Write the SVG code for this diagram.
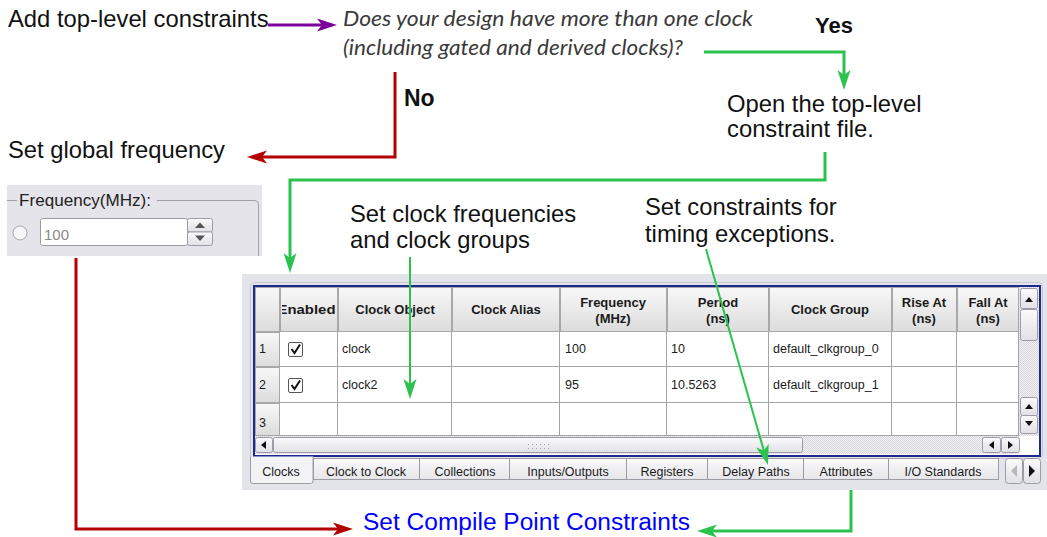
<svg xmlns="http://www.w3.org/2000/svg" width="1047" height="537" viewBox="0 0 1047 537">
  <style>
    .lbl { font-family: "Liberation Sans", Arial, sans-serif; font-size: 23.8px; fill: #111; }
    .bold { font-weight: bold; }
    .q { font-family: Lato, "Open Sans", sans-serif; font-style: italic; font-size: 21px; fill: #3a3a3a; }
    .ui { font-family: "Liberation Sans", Arial, sans-serif; font-size: 12.5px; fill: #1a1a1a; }
    .hd { font-family: "Liberation Sans", Arial, sans-serif; font-size: 13px; font-weight: bold; fill: #1a1a1a; text-anchor: middle; }
    .tab { font-family: "Liberation Sans", Arial, sans-serif; font-size: 12.5px; fill: #1a1a1a; text-anchor: middle; }
    .grid { stroke: #a4a4a4; stroke-width: 1; fill: none; }
    .hcell { fill: url(#hdrGrad); stroke: #a8a8a8; stroke-width: 1; }
    .btn { fill: url(#btnGrad); stroke: #9c9ca6; stroke-width: 1; }
    .itab { fill: url(#tabGrad); stroke: #9c9ca4; stroke-width: 1; }
    .purple { stroke: #7d009c; stroke-width: 3; fill: none; }
    .red { stroke: #b30000; stroke-width: 3; fill: none; }
    .green { stroke: #2cc24e; stroke-width: 3; fill: none; }
    .green-thin { stroke: #2cc24e; stroke-width: 2; fill: none; }
  </style>
  <defs>
    <marker id="ahP" viewBox="0 -7 20 14" refX="6" refY="0" markerWidth="20" markerHeight="14" markerUnits="userSpaceOnUse" orient="auto">
      <path d="M0,-6.5 L20,0 L0,6.5 L5,0 Z" fill="#7d009c"/>
    </marker>
    <marker id="ahR" viewBox="0 -7 20 14" refX="6" refY="0" markerWidth="20" markerHeight="14" markerUnits="userSpaceOnUse" orient="auto">
      <path d="M0,-6.5 L20,0 L0,6.5 L5,0 Z" fill="#b30000"/>
    </marker>
    <marker id="ahG" viewBox="0 -7 20 14" refX="6" refY="0" markerWidth="20" markerHeight="14" markerUnits="userSpaceOnUse" orient="auto">
      <path d="M0,-6.5 L20,0 L0,6.5 L5,0 Z" fill="#2cc24e"/>
    </marker>
    <linearGradient id="hdrGrad" x1="0" y1="0" x2="0" y2="1">
      <stop offset="0" stop-color="#f8f8f8"/>
      <stop offset="1" stop-color="#dcdcdc"/>
    </linearGradient>
    <linearGradient id="btnGrad" x1="0" y1="0" x2="0" y2="1">
      <stop offset="0" stop-color="#fbfbfc"/>
      <stop offset="1" stop-color="#e0e0e6"/>
    </linearGradient>
    <linearGradient id="tabGrad" x1="0" y1="0" x2="0" y2="1">
      <stop offset="0" stop-color="#fafafa"/>
      <stop offset="1" stop-color="#e6e6ea"/>
    </linearGradient>
    <pattern id="track" width="2" height="2" patternUnits="userSpaceOnUse">
      <rect width="2" height="2" fill="#f2f2f4"/>
      <rect width="1" height="1" fill="#d6d6dc"/>
      <rect x="1" y="1" width="1" height="1" fill="#d6d6dc"/>
    </pattern>
    <pattern id="grip" width="4" height="4" patternUnits="userSpaceOnUse">
      <rect width="1" height="1" fill="#a8a8b0"/>
    </pattern>
    <clipPath id="enClip"><rect x="282" y="288" width="56" height="44"/></clipPath>
  </defs>

  <!-- flow labels -->
  <g id="add-constraints">
    <text class="lbl" x="8" y="27">Add top-level constraints</text>
  </g>
  <g id="question">
    <text class="q" x="343" y="26" textLength="410" lengthAdjust="spacingAndGlyphs">Does your design have more than one clock</text>
    <text class="q" x="343" y="55" textLength="340" lengthAdjust="spacingAndGlyphs">(including gated and derived clocks)?</text>
  </g>
  <g id="yes-label">
    <text class="lbl bold" x="815" y="33" style="font-size:22px">Yes</text>
  </g>
  <g id="no-label">
    <text class="lbl bold" x="404" y="106" style="font-size:23px">No</text>
  </g>
  <g id="open-file">
    <text class="lbl" x="727" y="112">Open the top-level</text>
    <text class="lbl" x="727" y="137">constraint file.</text>
  </g>
  <g id="global-frequency">
    <text class="lbl" x="8" y="158">Set global frequency</text>
  </g>
  <g id="clock-frequencies">
    <text class="lbl" x="350" y="222">Set clock frequencies</text>
    <text class="lbl" x="350" y="248">and clock groups</text>
  </g>
  <g id="timing-exceptions">
    <text class="lbl" x="645" y="215">Set constraints for</text>
    <text class="lbl" x="645" y="242">timing exceptions.</text>
  </g>
  <g id="compile-point">
    <text x="363" y="530" textLength="327" lengthAdjust="spacingAndGlyphs" style="font-family:'Liberation Sans',Arial,sans-serif;font-size:23px;fill:#0000ff">Set Compile Point Constraints</text>
  </g>

  <!-- frequency entry widget -->
  <g id="frequency-widget">
    <rect x="7" y="185" width="255" height="71" fill="#e4e4ea"/>
    <path d="M7,200.5 H17 M157,200.5 H254 Q258.5,200.5 258.5,205 V256" stroke="#a0a0a8" stroke-width="1" fill="none"/>
    <text x="19" y="206" textLength="132" lengthAdjust="spacingAndGlyphs" style="font-family:'Liberation Sans',Arial,sans-serif;font-size:17px;fill:#222">Frequency(MHz):</text>
    <circle cx="20" cy="233" r="7" fill="#f6f6f8" stroke="#a8a8b0" stroke-width="1"/>
    <rect x="40.5" y="218.5" width="147" height="27" rx="2" fill="#ffffff" stroke="#9a9aa2"/>
    <text x="44" y="240" style="font-family:'Liberation Sans',Arial,sans-serif;font-size:15px;fill:#8a8a8a">100</text>
    <rect x="187.5" y="218.5" width="25" height="13.5" rx="2" class="btn"/>
    <rect x="187.5" y="232" width="25" height="13.5" rx="2" class="btn"/>
    <path d="M195,228 L200,222.5 L205,228 Z" fill="#555"/>
    <path d="M195,235.5 L200,241 L205,235.5 Z" fill="#555"/>
  </g>

  <!-- clocks table panel -->
  <g id="clock-table">
    <rect x="242" y="274" width="805" height="216" fill="#e3e3ea"/>
    <rect x="250.5" y="282.5" width="792" height="176" rx="4" fill="none" stroke="#c6c6ce"/>
    <rect x="254" y="286" width="786" height="170" fill="#ffffff" stroke="#1c2a8e" stroke-width="2"/>

    <!-- header row -->
    <rect class="hcell" x="255.5" y="287.5" width="24" height="44"/>
    <rect class="hcell" x="280.5" y="287.5" width="57" height="44"/>
    <rect class="hcell" x="338.5" y="287.5" width="113" height="44"/>
    <rect class="hcell" x="452.5" y="287.5" width="107" height="44"/>
    <rect class="hcell" x="560.5" y="287.5" width="106" height="44"/>
    <rect class="hcell" x="667.5" y="287.5" width="101" height="44"/>
    <rect class="hcell" x="769.5" y="287.5" width="122" height="44"/>
    <rect class="hcell" x="892.5" y="287.5" width="64" height="44"/>
    <rect class="hcell" x="957.5" y="287.5" width="61" height="44"/>

    <g clip-path="url(#enClip)">
      <text class="hd" x="277.5" y="314" style="text-anchor:start" textLength="58" lengthAdjust="spacingAndGlyphs">Enabled</text>
    </g>
    <text class="hd" x="395" y="314">Clock Object</text>
    <text class="hd" x="506" y="314">Clock Alias</text>
    <text class="hd" x="613" y="307">Frequency</text>
    <text class="hd" x="613" y="323">(MHz)</text>
    <text class="hd" x="718" y="307">Period</text>
    <text class="hd" x="718" y="323">(ns)</text>
    <text class="hd" x="830" y="314">Clock Group</text>
    <text class="hd" x="924" y="307">Rise At</text>
    <text class="hd" x="924" y="323">(ns)</text>
    <text class="hd" x="988" y="307">Fall At</text>
    <text class="hd" x="988" y="323">(ns)</text>

    <!-- row number cells -->
    <rect class="hcell" x="255.5" y="332.5" width="24" height="34"/>
    <rect class="hcell" x="255.5" y="367.5" width="24" height="35"/>
    <rect class="hcell" x="255.5" y="403.5" width="24" height="32"/>

    <!-- data grid -->
    <path class="grid" d="M280,366.5 H1019 M280,402.5 H1019 M280,435.5 H1019 M337.5,332 V436 M451.5,332 V436 M559.5,332 V436 M666.5,332 V436 M768.5,332 V436 M891.5,332 V436 M956.5,332 V436 M1018.5,332 V436"/>

    <text class="ui" x="259" y="353">1</text>
    <text class="ui" x="259" y="389">2</text>
    <text class="ui" x="259" y="427">3</text>

    <rect x="288.5" y="342.5" width="14" height="14" rx="1.5" fill="#ffffff" stroke="#555"/>
    <path d="M291.5,349 L294.5,353 L300,344.5" stroke="#111" stroke-width="2" fill="none"/>
    <rect x="288.5" y="378.5" width="14" height="14" rx="1.5" fill="#ffffff" stroke="#555"/>
    <path d="M291.5,385 L294.5,389 L300,380.5" stroke="#111" stroke-width="2" fill="none"/>

    <text class="ui" x="342" y="353">clock</text>
    <text class="ui" x="565" y="353">100</text>
    <text class="ui" x="671" y="353">10</text>
    <text class="ui" x="773" y="353">default_clkgroup_0</text>
    <text class="ui" x="342" y="389">clock2</text>
    <text class="ui" x="565" y="389">95</text>
    <text class="ui" x="671" y="389">10.5263</text>
    <text class="ui" x="773" y="389">default_clkgroup_1</text>

    <!-- vertical scrollbar -->
    <rect x="1019" y="287" width="20" height="149" fill="url(#track)"/>
    <rect class="btn" x="1020.5" y="288.5" width="17" height="20" rx="2"/>
    <path d="M1025,302 L1029,297 L1033,302 Z" fill="#111"/>
    <rect class="btn" x="1020.5" y="309.5" width="17" height="31" rx="2"/>
    <rect class="btn" x="1020.5" y="397.5" width="17" height="18" rx="2"/>
    <path d="M1025,409 L1029,404 L1033,409 Z" fill="#111"/>
    <rect class="btn" x="1020.5" y="415.5" width="17" height="18" rx="2"/>
    <path d="M1025,421 L1029,426 L1033,421 Z" fill="#111"/>

    <!-- horizontal scrollbar -->
    <rect x="255" y="436" width="764" height="18" fill="url(#track)"/>
    <rect class="btn" x="255.5" y="437.5" width="17" height="15" rx="2"/>
    <path d="M266,441 L261,445 L266,449 Z" fill="#111"/>
    <rect class="btn" x="273.5" y="437.5" width="529" height="15" rx="2"/>
    <rect x="528" y="441" width="22" height="9" fill="url(#grip)"/>
    <rect class="btn" x="982.5" y="437.5" width="18" height="15" rx="2"/>
    <path d="M994,441 L989,445 L994,449 Z" fill="#111"/>
    <rect class="btn" x="1001.5" y="437.5" width="18" height="15" rx="2"/>
    <path d="M1008,441 L1013,445 L1008,449 Z" fill="#111"/>

    <!-- sheet tabs -->
    <rect class="itab" x="313.5" y="458.5" width="106" height="21"/>
    <rect class="itab" x="419.5" y="458.5" width="90" height="21"/>
    <rect class="itab" x="509.5" y="458.5" width="117" height="21"/>
    <rect class="itab" x="626.5" y="458.5" width="81" height="21"/>
    <rect class="itab" x="707.5" y="458.5" width="96" height="21"/>
    <rect class="itab" x="803.5" y="458.5" width="85" height="21"/>
    <rect class="itab" x="888.5" y="458.5" width="110" height="21"/>
    <path d="M250.5,456.5 V481 Q250.5,483.5 253,483.5 H310.5 Q313,483.5 313,481 V456.5" fill="#f3f3f6" stroke="#9c9ca4"/>
    <text class="tab" x="281" y="476">Clocks</text>
    <text class="tab" x="366" y="476">Clock to Clock</text>
    <text class="tab" x="465" y="476">Collections</text>
    <text class="tab" x="568" y="476">Inputs/Outputs</text>
    <text class="tab" x="667" y="476">Registers</text>
    <text class="tab" x="756" y="476">Delay Paths</text>
    <text class="tab" x="846" y="476">Attributes</text>
    <text class="tab" x="943" y="476">I/O Standards</text>
    <rect class="btn" x="1005.5" y="458.5" width="17" height="25" rx="3"/>
    <path d="M1017,465 L1011,471 L1017,477 Z" fill="#b8b8be"/>
    <rect class="btn" x="1023.5" y="458.5" width="17" height="25" rx="3"/>
    <path d="M1029,465 L1035,471 L1029,477 Z" fill="#111"/>
  </g>

  <!-- connectors -->
  <g id="connectors">
    <path class="purple" d="M268,25 H323" marker-end="url(#ahP)"/>
    <path class="red" d="M395,72 V157 H261" marker-end="url(#ahR)"/>
    <path class="green" d="M704,52 H844 V76" marker-end="url(#ahG)"/>
    <path class="green" d="M825,152 V180 H290 V259" marker-end="url(#ahG)"/>
    <path class="red" d="M76,258 V529 H339" marker-end="url(#ahR)"/>
    <path class="green" d="M851,490 V531 H711" marker-end="url(#ahG)"/>
    <path class="green-thin" d="M410,257 V385" marker-end="url(#ahG)"/>
    <path class="green-thin" d="M706,249 L764.1,451.5" marker-end="url(#ahG)"/>
  </g>
</svg>
